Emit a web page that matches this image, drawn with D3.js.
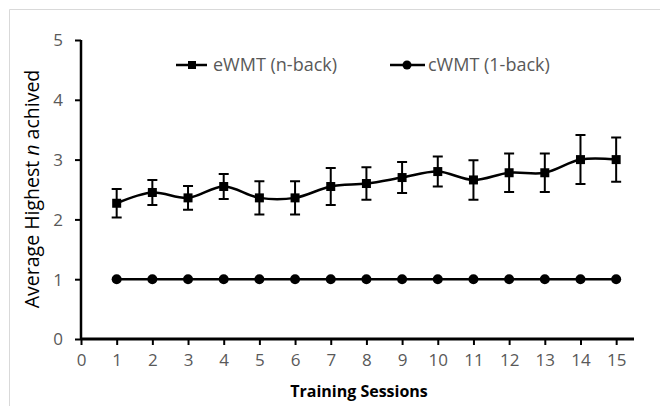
<!DOCTYPE html>
<html>
<head>
<meta charset="utf-8">
<script src="https://cdn.jsdelivr.net/npm/d3@7"></script>
<style>
    body { margin: 0; background: #fff; }
    text { font-family: "Open Sans", sans-serif; }
</style>
</head>
<body>
<svg width="660" height="406"></svg>
<script>
// training sessions 1..15
var sessions = [1,2,3,4,5,6,7,8,9,10,11,12,13,14,15];
var ewmtMean = [2.27,2.45,2.36,2.55,2.36,2.36,2.55,2.60,2.70,2.80,2.66,2.78,2.78,3.00,3.00];
var ewmtErr  = [0.24,0.21,0.20,0.21,0.28,0.28,0.31,0.27,0.26,0.25,0.33,0.32,0.32,0.41,0.37];
var cwmtMean = [1,1,1,1,1,1,1,1,1,1,1,1,1,1,1];
var xTicks = [0,1,2,3,4,5,6,7,8,9,10,11,12,13,14,15];
var yTicks = [0,1,2,3,4,5];

var svg = d3.select("svg");

// chart frame (light grey)
svg.append("path")
    .attr("d", "M9.5,406 V9.5 H660")
    .attr("fill", "none")
    .attr("stroke", "#d9d9d9")
    .attr("stroke-width", 1);

var x = d3.scaleLinear().domain([0, 15.5]).range([81, 634]);
var y = d3.scaleLinear().domain([0, 5]).range([339, 40]);

// y axis
var gy = svg.append("g")
    .attr("transform", "translate(81,0)")
    .call(d3.axisLeft(y).tickValues(yTicks).tickSize(6).tickPadding(12).tickFormat(d3.format("d")));
gy.select(".domain").attr("stroke", "#000").attr("stroke-width", 2.5).attr("d", "M0," + y(5) + "V" + y(0));
gy.selectAll(".tick line").attr("stroke", "#000").attr("stroke-width", 2);
gy.selectAll(".tick text").attr("fill", "#595959").style("font-size", "17px").attr("dy", "0.35em");

// x axis
var gx = svg.append("g")
    .attr("transform", "translate(0," + y(0) + ")")
    .call(d3.axisBottom(x).tickValues(xTicks).tickSize(6).tickPadding(9).tickFormat(d3.format("d")));
gx.select(".domain").attr("stroke", "#000").attr("stroke-width", 3).attr("d", "M" + x(0) + ",0H" + x(15.5));
gx.selectAll(".tick line").attr("stroke", "#000").attr("stroke-width", 2);
gx.selectAll(".tick text").attr("fill", "#595959").style("font-size", "17px");

// axis titles
svg.append("text")
    .attr("transform", "translate(39,189) rotate(-90)")
    .attr("text-anchor", "middle")
    .attr("fill", "#000")
    .style("font-size", "19.5px")
    .html('Average Highest <tspan font-style="italic">n</tspan> achived');

svg.append("text")
    .attr("x", 359)
    .attr("y", 397)
    .attr("text-anchor", "middle")
    .attr("fill", "#000")
    .style("font-size", "16px")
    .style("font-weight", "bold")
    .text("Training Sessions");

// cWMT line
svg.append("path")
    .datum(sessions)
    .attr("fill", "none")
    .attr("stroke", "#000")
    .attr("stroke-width", 2.5)
    .attr("d", d3.line().x(function(d) { return x(d); }).y(function(d, i) { return y(cwmtMean[i]); }));

svg.append("g").selectAll("circle")
    .data(sessions)
    .enter()
    .append("circle")
    .attr("cx", function(d) { return x(d); })
    .attr("cy", function(d, i) { return y(cwmtMean[i]); })
    .attr("r", 5)
    .attr("fill", "#000");

// eWMT error bars
var eb = svg.append("g").attr("stroke", "#000").attr("stroke-width", 2);
sessions.forEach(function(d, i) {
    var lo = y(ewmtMean[i] - ewmtErr[i]);
    var hi = y(ewmtMean[i] + ewmtErr[i]);
    eb.append("path")
        .attr("fill", "none")
        .attr("d", "M" + x(d) + "," + lo + "V" + hi +
                   "M" + (x(d) - 5) + "," + hi + "H" + (x(d) + 5) +
                   "M" + (x(d) - 5) + "," + lo + "H" + (x(d) + 5));
});

// eWMT line (smoothed like excel)
svg.append("path")
    .datum(sessions)
    .attr("fill", "none")
    .attr("stroke", "#000")
    .attr("stroke-width", 2.5)
    .attr("d", d3.line().curve(d3.curveCatmullRom.alpha(0.5))
        .x(function(d) { return x(d); })
        .y(function(d, i) { return y(ewmtMean[i]); }));

svg.append("g").selectAll("rect")
    .data(sessions)
    .enter()
    .append("rect")
    .attr("x", function(d) { return x(d) - 4.5; })
    .attr("y", function(d, i) { return y(ewmtMean[i]) - 4.5; })
    .attr("width", 9)
    .attr("height", 9)
    .attr("fill", "#000");

// legend
var leg = svg.append("g");
leg.append("line").attr("x1", 176).attr("x2", 207).attr("y1", 65).attr("y2", 65)
    .attr("stroke", "#000").attr("stroke-width", 2.5);
leg.append("rect").attr("x", 188).attr("y", 61).attr("width", 8).attr("height", 8).attr("fill", "#000");
leg.append("text").attr("x", 213).attr("y", 65).attr("dy", "0.35em")
    .attr("fill", "#595959").style("font-size", "18px").text("eWMT (n-back)");

leg.append("line").attr("x1", 390).attr("x2", 425).attr("y1", 65).attr("y2", 65)
    .attr("stroke", "#000").attr("stroke-width", 2.5);
leg.append("circle").attr("cx", 407).attr("cy", 65).attr("r", 4.5).attr("fill", "#000");
leg.append("text").attr("x", 428).attr("y", 65).attr("dy", "0.35em")
    .attr("fill", "#595959").style("font-size", "18px").text("cWMT (1-back)");
</script>
</body>
</html>
